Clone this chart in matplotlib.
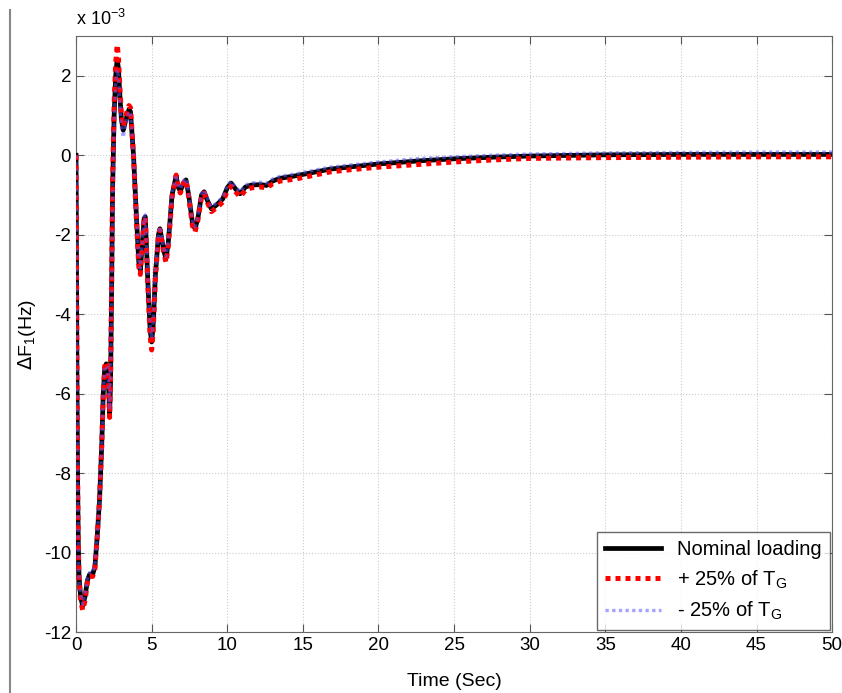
import numpy as np
import matplotlib
matplotlib.use("Agg")
import matplotlib.pyplot as plt
from matplotlib.lines import Line2D

plt.rcParams['font.family'] = ['Liberation Sans', 'DejaVu Sans']

# tempo (s) e desvio de frequencia (x 1e-3 Hz)
tempo = [0, 0.03, 0.06, 0.1, 0.15, 0.2, 0.3, 0.44, 0.6, 0.75, 0.9, 1.1, 1.25, 1.4,
         1.55, 1.7, 1.8, 1.9, 2.0, 2.1, 2.17, 2.22, 2.28, 2.35, 2.42, 2.52, 2.62,
         2.72, 2.8, 2.9, 3.0, 3.12, 3.3, 3.5, 3.6, 3.8, 4.0, 4.15, 4.25, 4.35, 4.5,
         4.58, 4.75, 4.9, 5.0, 5.1, 5.25, 5.45, 5.55, 5.8, 5.95, 6.1, 6.35, 6.62,
         6.75, 6.9, 7.1, 7.27, 7.45, 7.7, 7.87, 8.05, 8.3, 8.47, 8.7, 8.95, 9.3,
         9.7, 10.0, 10.25, 10.55, 10.85, 11.2, 11.6, 12.2, 12.6, 13.0, 13.5, 14.5,
         16.8, 18.0, 20.0, 22.75, 25.0, 27.5, 30.0, 35.0, 40.0, 45.0, 50.0]

nominal = [0, -2.5, -5.5, -8.0, -9.8, -10.6, -11.1, -11.35, -11.1, -10.7, -10.55,
           -10.55, -10.35, -9.6, -8.7, -7.3, -6.0, -5.35, -5.25, -5.3, -6.0, -6.5,
           -5.8, -3.5, -0.8, 1.0, 2.0, 2.42, 2.2, 1.5, 0.9, 0.63, 0.9, 1.15, 1.1,
           0.0, -1.6, -2.7, -2.9, -2.4, -1.6, -1.55, -3.2, -4.4, -4.7, -4.3, -3.0,
           -2.0, -1.85, -2.4, -2.6, -2.2, -1.0, -0.52, -0.8, -0.9, -0.7, -0.62,
           -1.0, -1.7, -1.85, -1.6, -1.0, -0.92, -1.15, -1.35, -1.25, -1.1, -0.82,
           -0.7, -0.85, -0.97, -0.8, -0.75, -0.74, -0.76, -0.65, -0.58, -0.52,
           -0.35, -0.3, -0.22, -0.14, -0.09, -0.05, -0.02, 0.01, 0.02, 0.02, 0.02]

mais_25 = [0, -2.5, -5.5, -8.0, -9.8, -10.7, -11.2, -11.45, -11.2, -10.75, -10.6,
           -10.6, -10.4, -9.6, -8.7, -7.3, -6.0, -5.3, -5.2, -5.3, -6.0, -6.6,
           -5.8, -3.4, -0.6, 1.3, 2.3, 2.78, 2.5, 1.7, 1.0, 0.72, 1.0, 1.25, 1.2,
           0.0, -1.7, -2.8, -3.0, -2.45, -1.6, -1.55, -3.3, -4.55, -4.9, -4.45,
           -3.1, -2.0, -1.88, -2.45, -2.7, -2.3, -1.05, -0.5, -0.82, -0.95, -0.7,
           -0.62, -1.05, -1.78, -1.93, -1.65, -1.05, -0.95, -1.2, -1.42, -1.32,
           -1.18, -0.9, -0.78, -0.92, -1.05, -0.88, -0.82, -0.8, -0.82, -0.72,
           -0.65, -0.6, -0.42, -0.37, -0.3, -0.23, -0.17, -0.12, -0.08, -0.06,
           -0.05, -0.04, -0.04]

menos_25 = [0, -2.5, -5.5, -8.0, -9.8, -10.6, -11.05, -11.3, -11.05, -10.65,
            -10.5, -10.5, -10.3, -9.6, -8.7, -7.3, -6.0, -5.35, -5.3, -5.35,
            -6.0, -6.4, -5.8, -3.6, -1.0, 0.8, 1.8, 2.15, 2.0, 1.3, 0.7, 0.45,
            0.8, 1.1, 1.05, 0.0, -1.55, -2.65, -2.85, -2.35, -1.55, -1.5, -3.1,
            -4.3, -4.6, -4.2, -2.9, -1.95, -1.8, -2.35, -2.55, -2.15, -0.95,
            -0.5, -0.75, -0.85, -0.65, -0.58, -0.95, -1.65, -1.8, -1.55, -0.95,
            -0.88, -1.1, -1.3, -1.2, -1.05, -0.77, -0.65, -0.8, -0.92, -0.75,
            -0.7, -0.68, -0.7, -0.6, -0.53, -0.47, -0.3, -0.25, -0.17, -0.08,
            -0.04, 0.0, 0.03, 0.06, 0.07, 0.08, 0.08]

legendas = ['Nominal loading', '+ 25% of T$_\\mathregular{G}$', '- 25% of T$_\\mathregular{G}$']

fig = plt.figure(figsize=(8.42, 6.93), dpi=100)
ax = fig.add_axes([0.0903, 0.088, 0.898, 0.86])

t = np.array(tempo)
ax.plot(t, np.array(nominal) * 1e-3, color='black', lw=3.4, label=legendas[0], zorder=3)
ax.plot(t, np.array(mais_25) * 1e-3, color='red', lw=3.6, ls=(0, (1, 1)), label=legendas[1], zorder=4)
ax.plot(t, np.array(menos_25) * 1e-3, color='#5a5aff', lw=2.4, ls=(0, (1, 1)), alpha=0.55,
        label=legendas[2], zorder=5)

ax.set_xlim(0, 50)
ax.set_ylim(-12e-3, 3e-3)
ax.set_xticks(np.arange(0, 51, 5))
ax.set_yticks(np.arange(-12, 3, 2) * 1e-3)
ax.set_yticklabels([str(v) for v in range(-12, 3, 2)])
ax.tick_params(direction='in', top=True, right=True, labelsize=13.5, length=6, color='#555555')
for s in ax.spines.values():
    s.set_color('#666666')
ax.grid(True, color='#cccccc', ls=':', lw=0.8)

ax.set_xlabel('Time (Sec)', fontsize=14, labelpad=14)
ax.set_ylabel('$\\Delta$F$_\\mathregular{1}$(Hz)', fontsize=14, labelpad=4)
ax.text(0.0, 1.012, 'x 10$^\\mathregular{-3}$', transform=ax.transAxes, fontsize=13,
        va='bottom', ha='left')

leg = ax.legend(loc='lower right', fontsize=14.5, frameon=True, fancybox=False,
                borderaxespad=0.1, handlelength=2.8, labelspacing=0.45)
leg.get_frame().set_edgecolor('#444444')
leg.get_frame().set_linewidth(1.0)

# linha cinza da margem esquerda
fig.add_artist(Line2D([0.012, 0.012], [0.0, 0.985], color='#888888', lw=1.5,
                      transform=fig.transFigure))

fig.savefig('out.png', dpi=100)
